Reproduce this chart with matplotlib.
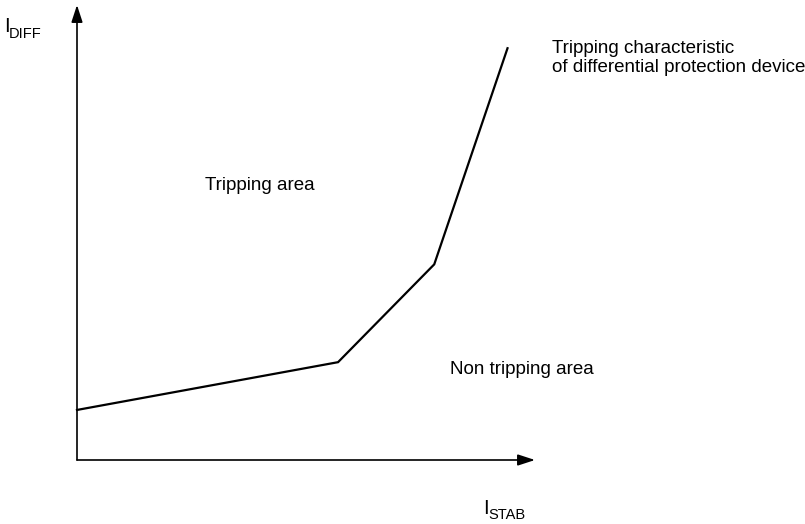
import matplotlib
matplotlib.use("Agg")
import matplotlib.pyplot as plt

# Data (arbitrary units): tripping characteristic breakpoints
i_stab = [0.0, 5.7, 7.8, 9.4]
i_diff = [1.1, 2.15, 4.3, 9.05]

x_label_main, x_label_sub = "I", "STAB"
y_label_main, y_label_sub = "I", "DIFF"
region_labels = ["Tripping area", "Non tripping area"]
curve_label = "Tripping characteristic\nof differential protection device"

W, H = 805, 524
fig = plt.figure(figsize=(W / 100, H / 100), dpi=100)
plt.rcParams['font.family'] = ['Liberation Sans', 'DejaVu Sans']

def fx(px):
    return px / W

def fy(py):
    return 1 - py / H

# axes: origin at pixel (77, 460), extends to (535, 5)
ax = fig.add_axes([fx(77), fy(460), fx(535) - fx(77), fy(5) - fy(460)])
ax.set_xlim(0, 10)
ax.set_ylim(0, 10)
ax.axis('off')

# axis arrows
arrow_kw = dict(arrowstyle='-|>,head_length=0.52,head_width=0.17', color='black',
                lw=1.2, mutation_scale=20, shrinkA=0, shrinkB=0)
ax.annotate('', xy=(1, 0), xytext=(0, 0), xycoords='axes fraction',
            arrowprops=arrow_kw, annotation_clip=False)
ax.annotate('', xy=(0, 1), xytext=(0, 0), xycoords='axes fraction',
            arrowprops=arrow_kw, annotation_clip=False)

# characteristic curve
ax.plot(i_stab, i_diff, color='black', lw=1.6, clip_on=False,
        solid_joinstyle='miter')

fs = 13.5
# axis labels
fig.text(fx(4), fy(32), y_label_main, fontsize=14.5, ha='left', va='baseline')
fig.text(fx(9), fy(38), y_label_sub, fontsize=10.5, ha='left', va='baseline')
fig.text(fx(483), fy(514), x_label_main, fontsize=14.5, ha='left', va='baseline')
fig.text(fx(488), fy(519), x_label_sub, fontsize=10.5, ha='left', va='baseline')

# region labels
fig.text(fx(205), fy(185), region_labels[0], fontsize=fs, ha='left', va='center')
fig.text(fx(450), fy(369), region_labels[1], fontsize=fs, ha='left', va='center')
fig.text(fx(552), fy(58), curve_label, fontsize=fs, ha='left', va='center',
         linespacing=1.1)

fig.savefig("out.png", dpi=100)
